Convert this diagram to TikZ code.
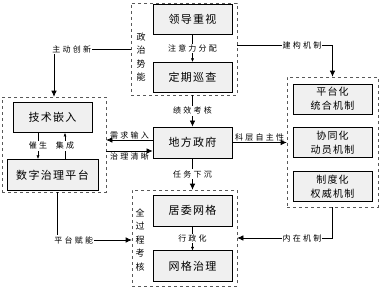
\documentclass[tikz,border=0pt]{standalone}
\usepackage{fontspec}
\setmainfont{Noto Sans CJK SC}
\newfontfamily\spaced[LetterSpace=12]{Noto Sans CJK SC}
\newfontfamily\wide[LetterSpace=28]{Noto Sans CJK SC}
\usetikzlibrary{arrows.meta,positioning}

\begin{document}
\begin{tikzpicture}[x=1pt, y=-1pt,
  node distance=26pt,
  box/.style={draw, line width=0.9pt, fill=gray!12, minimum width=79pt, minimum height=30pt, inner sep=0pt, align=center, font=\spaced\fontsize{11}{14}\selectfont},
  grp/.style={draw=gray!70!black, dashed, line width=0.6pt, inner sep=0pt},
  lbl/.style={font=\wide\fontsize{8}{10}\selectfont, inner sep=1pt},
  wlbl/.style={lbl, fill=white},
  vtxt/.style={align=center, font=\fontsize{9}{13.5}\selectfont, inner sep=0pt},
  arr/.style={-{Latex[length=6pt,width=5.5pt]}, line width=0.6pt},
  sarr/.style={-{Latex[length=3.5pt,width=3pt]}, line width=0.5pt}
]
  \useasboundingbox (0,0) rectangle (381,289);

  % dashed groups
  \node[grp, minimum width=106pt, minimum height=92pt] (top) at (184,49) {};
  \node[grp, minimum width=104pt, minimum height=95pt] (left) at (54,144.5) {};
  \node[grp, minimum width=91pt, minimum height=130pt] (right) at (332.5,142) {};
  \node[grp, minimum width=105pt, minimum height=96pt] (bottom) at (184.5,238) {};

  % top group
  \node[box] (lingdao) at (192.5,19.5) {领导重视};
  \node[box, below=27pt of lingdao] (dingqi) {定期巡查};
  \node[vtxt] (shineng) at (141,57) {政\\治\\势\\能};

  % centre
  \node[box, minimum height=31pt] (gov) at (192.5,142.5) {地方政府};

  % left group
  \node[box] (jishu) at (52.5,117.5) {技术嵌入};
  \node[box, minimum width=91pt, minimum height=31pt, below=26pt of jishu] (shuzi) {数字治理平台};

  % right group
  \node[box, font=\spaced\fontsize{10}{14}\selectfont] (pingtai) at (332.5,99) {平台化\\统合机制};
  \node[box, font=\spaced\fontsize{10}{14}\selectfont, below=13pt of pingtai] (xietong) {协同化\\动员机制};
  \node[box, font=\spaced\fontsize{10}{14}\selectfont, below=13pt of xietong] (zhidu) {制度化\\权威机制};

  % bottom group
  \node[box, minimum height=31pt] (juwei) at (192.5,210.5) {居委网格};
  \node[box, minimum height=31pt, below=24pt of juwei] (wangge) {网格治理};
  \node[vtxt] (kaohe) at (140,240) {全\\过\\程\\考\\核};

  % inner arrows
  \draw[sarr] (lingdao) -- node[wlbl]{注意力分配} (dingqi);
  \draw[sarr] (juwei) -- node[wlbl]{行政化} (wangge);
  \draw[sarr] ([xshift=-14.5pt]jishu.south) -- node[wlbl]{催生} ([xshift=-14.5pt]jishu.south |- shuzi.north);
  \draw[sarr] ([xshift=12.5pt]shuzi.north) -- node[wlbl]{集成} ([xshift=12.5pt]shuzi.north |- jishu.south);

  % arrows around the local government
  \draw[arr] (gov |- top.south) -- node[wlbl]{绩效考核} (gov);
  \draw[arr] (gov) -- node[wlbl]{任务下沉} (gov |- bottom.north);
  \draw[arr] ([yshift=2.5pt]gov.west) -- node[lbl, above]{需求输入} ([yshift=2.5pt]gov.west -| left.east);
  \draw[arr] ([yshift=-8.5pt]gov.west -| left.east) -- node[lbl, below]{治理清晰} ([yshift=-8.5pt]gov.west);
  \draw[arr] (gov) -- node[lbl, above]{科层自主性} (gov -| right.west);

  % outer loops
  \draw[arr] (top.west) -| node[wlbl, pos=0.5, anchor=west, xshift=-3pt]{主动创新} (left.north);
  \draw[arr] ([yshift=4pt]top.east) -| node[wlbl, pos=0.34]{建构机制} (right.north);
  \draw[arr] ([xshift=3pt]left.south) |- node[wlbl, pos=0.5, anchor=west, xshift=-4pt]{平台赋能} (bottom.west |- kaohe);
  \draw[arr] (right.south) |- node[wlbl, pos=0.66]{内在机制} ([yshift=2pt]bottom.east |- kaohe);
\end{tikzpicture}
\end{document}
